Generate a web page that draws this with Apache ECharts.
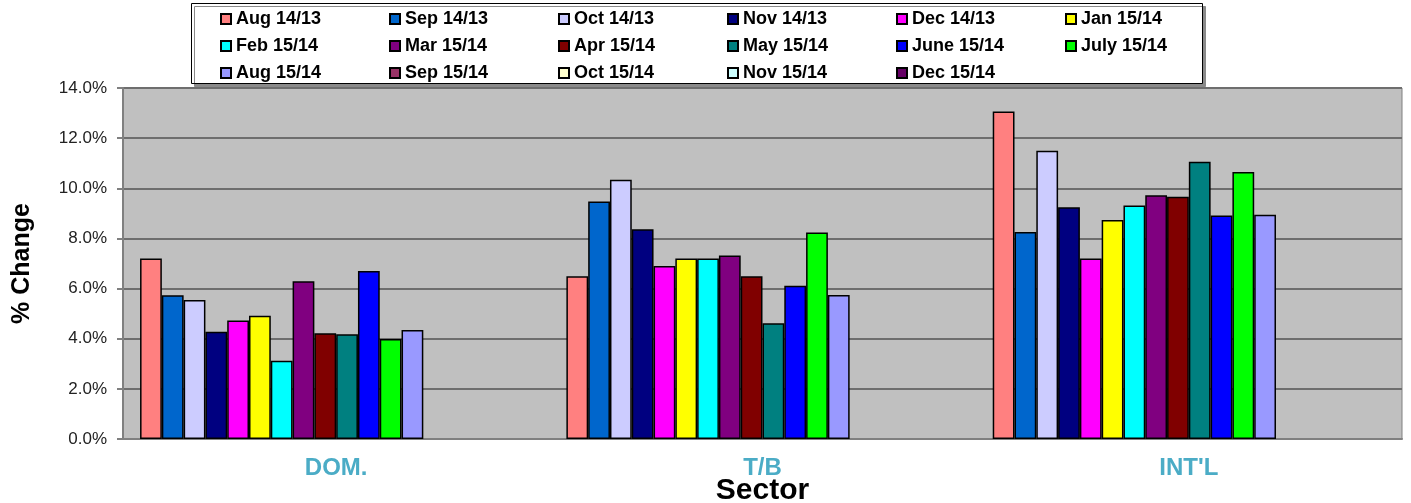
<!DOCTYPE html>
<html>
<head>
<meta charset="utf-8">
<script src="https://cdn.jsdelivr.net/npm/echarts@6/dist/echarts.min.js"></script>
<style>
  html, body { margin: 0; padding: 0; background: #fff; }
  #main { width: 1411px; height: 503px; }
</style>
</head>
<body>
<div id="main"></div>
<script>
// sectors on the x axis
var sectors = ['DOM.', 'T/B', "INT'L"];

// one series per month, % change per sector
var seriesNames = ['Aug 14/13', 'Sep 14/13', 'Oct 14/13', 'Nov 14/13', 'Dec 14/13', 'Jan 15/14',
    'Feb 15/14', 'Mar 15/14', 'Apr 15/14', 'May 15/14', 'June 15/14', 'July 15/14',
    'Aug 15/14', 'Sep 15/14', 'Oct 15/14', 'Nov 15/14', 'Dec 15/14'];

var aug1413 = [7.20, 6.49, 13.06];
var sep1413 = [5.73, 9.47, 8.26];
var oct1413 = [5.54, 10.34, 11.50];
var nov1413 = [4.28, 8.37, 9.24];
var dec1413 = [4.73, 6.90, 7.20];
var jan1514 = [4.92, 7.20, 8.74];
var feb1514 = [3.12, 7.20, 9.31];
var mar1514 = [6.29, 7.32, 9.72];
var apr1514 = [4.22, 6.49, 9.66];
var may1514 = [4.18, 4.62, 11.06];
var jun1514 = [6.70, 6.11, 8.91];
var jul1514 = [3.99, 8.24, 10.65];
var aug1514 = [4.35, 5.74, 8.94];
var sep1514 = [];
var oct1514 = [];
var nov1514 = [];
var dec1514 = [];

var seriesValues = [aug1413, sep1413, oct1413, nov1413, dec1413, jan1514, feb1514, mar1514,
    apr1514, may1514, jun1514, jul1514, aug1514, sep1514, oct1514, nov1514, dec1514];

var colors = ['#FF8080', '#0066CC', '#CCCCFF', '#000080', '#FF00FF', '#FFFF00', '#00FFFF',
    '#800080', '#800000', '#008080', '#0000FF', '#00FF00', '#9999FF', '#993366', '#FFFFCC',
    '#CCFFFF', '#660066'];

var series = seriesNames.map(function (name, i) {
    return {
        name: name,
        type: 'bar',
        data: seriesValues[i],
        barGap: '0%',
        barCategoryGap: '8%',
        itemStyle: { color: colors[i], borderColor: '#000', borderWidth: 1.5 },
        emphasis: { disabled: true }
    };
});
// empty slot at the end of each group (the original leaves room for one more bar)
series.push({ name: 'spacer', type: 'bar', data: [], barGap: '0%', barCategoryGap: '8%' });

// legend: 3 rows of 6, drawn as 3 legends inside one framed box
var legendRows = [seriesNames.slice(0, 6), seriesNames.slice(6, 12), seriesNames.slice(12)];
var legends = legendRows.map(function (row, r) {
    return {
        data: row,
        orient: 'horizontal',
        left: 220,
        top: 10 + r * 27,
        padding: 0,
        itemWidth: 10,
        itemHeight: 10,
        itemGap: 29,
        icon: 'rect',
        textStyle: {
            fontFamily: 'Liberation Sans, Arial, sans-serif',
            fontWeight: 'bold',
            fontSize: 18,
            color: '#000',
            width: 124,
            lineHeight: 18
        }
    };
});

var myChart = echarts.init(document.getElementById('main'));

var option = {
    backgroundColor: '#fff',
    animation: false,
    textStyle: { fontFamily: 'Liberation Sans, Arial, sans-serif' },
    graphic: [{
        type: 'rect',
        z: 3,
        shape: { x: 191.5, y: 3.5, width: 1011, height: 80 },
        style: {
            fill: '#fff',
            stroke: '#000',
            lineWidth: 1,
            shadowColor: '#8a8a8a',
            shadowOffsetX: 3,
            shadowOffsetY: 3,
            shadowBlur: 0
        },
        silent: true
    }],
    legend: legends,
    grid: {
        left: 123,
        right: 9,
        top: 88,
        bottom: 64,
        outerBoundsMode: 'none',
        show: true,
        backgroundColor: '#C0C0C0',
        borderColor: '#808080',
        borderWidth: 1
    },
    xAxis: {
        type: 'category',
        data: sectors,
        name: 'Sector',
        nameLocation: 'middle',
        nameMoveOverlap: false,
        nameGap: 37,
        nameTextStyle: { fontSize: 30, fontWeight: 'bold', color: '#000' },
        axisLine: { lineStyle: { color: '#808080', width: 2 } },
        axisTick: { length: 7, lineStyle: { color: '#808080', width: 2 } },
        axisLabel: { margin: 17, fontSize: 24, fontWeight: 'bold', color: '#4BACC6' }
    },
    yAxis: {
        type: 'value',
        min: 0,
        max: 14,
        interval: 2,
        name: '% Change',
        nameLocation: 'middle',
        nameMoveOverlap: false,
        nameGap: 88,
        nameTextStyle: { fontSize: 25, fontWeight: 'bold', color: '#000' },
        axisLine: { show: true, lineStyle: { color: '#808080', width: 2 } },
        axisTick: { show: true, length: 6, lineStyle: { color: '#808080', width: 2 } },
        axisLabel: {
            margin: 16,
            fontSize: 17,
            color: '#222',
            formatter: function (v) { return v.toFixed(1) + '%'; }
        },
        splitLine: { lineStyle: { color: '#6E6E6E', width: 2 } }
    },
    series: series
};
myChart.setOption(option);
</script>
</body>
</html>
